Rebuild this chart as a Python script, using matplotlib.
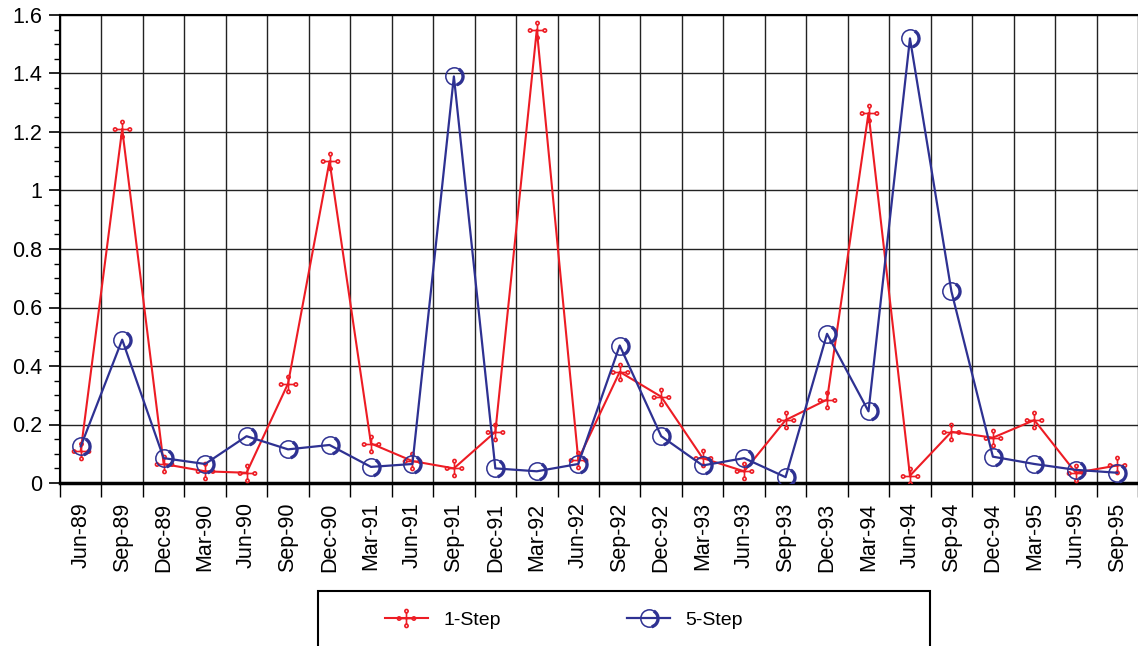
import numpy as np
import matplotlib
matplotlib.use("Agg")
import matplotlib.pyplot as plt
from matplotlib.path import Path
from matplotlib.patches import Rectangle
from matplotlib.lines import Line2D
from matplotlib.ticker import MultipleLocator, FuncFormatter

# quarters shown on the x axis
quarters = ["Jun-89", "Sep-89", "Dec-89", "Mar-90", "Jun-90", "Sep-90", "Dec-90",
            "Mar-91", "Jun-91", "Sep-91", "Dec-91", "Mar-92", "Jun-92", "Sep-92",
            "Dec-92", "Mar-93", "Jun-93", "Sep-93", "Dec-93", "Mar-94", "Jun-94",
            "Sep-94", "Dec-94", "Mar-95", "Jun-95", "Sep-95"]

one_step = [0.11, 1.21, 0.065, 0.04, 0.035, 0.34, 1.10, 0.135, 0.075, 0.05,
            0.175, 1.55, 0.08, 0.38, 0.295, 0.085, 0.04, 0.215, 0.285, 1.265,
            0.025, 0.175, 0.155, 0.215, 0.035, 0.06]

five_step = [0.125, 0.49, 0.085, 0.065, 0.16, 0.115, 0.13, 0.055, 0.065, 1.39,
             0.05, 0.04, 0.065, 0.47, 0.16, 0.06, 0.085, 0.02, 0.51, 0.245,
             1.52, 0.655, 0.09, 0.065, 0.045, 0.035]

RED = "#ed1c24"
BLUE = "#2e3192"

plt.rcParams["font.family"] = ["Liberation Sans", "DejaVu Sans"]
plt.rcParams["font.size"] = 14


def flower_marker():
    # cross with small rings at the arm ends
    arm = 1.0
    r = 0.22
    parts = [Path([(-arm + r, 0), (arm - r, 0)], [Path.MOVETO, Path.LINETO]),
             Path([(0, -arm + r), (0, arm - r)], [Path.MOVETO, Path.LINETO])]
    for cx, cy in [(arm, 0), (-arm, 0), (0, arm), (0, -arm)]:
        parts.append(Path.circle((cx, cy), r))
    return Path.make_compound_path(*parts)


# right-hand shading of the ring marker
crescent = Path.arc(-75, 60)

fig = plt.figure(figsize=(11.38, 6.46), dpi=100)
ax = fig.add_axes([60 / 1138, 1 - 483 / 646, 1 - 60 / 1138, (483 - 15) / 646])

x = np.arange(len(quarters))
ax.plot(x, one_step, color=RED, lw=1.5, marker=flower_marker(), ms=13,
        mfc="none", mec=RED, mew=1.2, zorder=3)
ax.plot(x, five_step, color=BLUE, lw=1.6, marker="o", ms=12.5,
        mfc="none", mec=BLUE, mew=1.1, zorder=3)
ax.plot(x, five_step, ls="none", marker=crescent, ms=12.5, mfc="none",
        mec=BLUE, mew=2.4, zorder=3)

ax.set_xlim(-0.5, len(quarters) - 0.5)
ax.set_ylim(0, 1.6)

ax.set_xticks(x)
ax.set_xticklabels(quarters, rotation=90, fontsize=15.5)
ax.set_xticks(np.arange(-0.5, len(quarters), 1.0), minor=True)
ax.tick_params(axis="x", which="major", length=0, pad=14)
ax.tick_params(axis="x", which="minor", length=10, width=1, direction="out")

ax.yaxis.set_major_locator(MultipleLocator(0.2))
ax.yaxis.set_minor_locator(MultipleLocator(0.05))
ax.yaxis.set_major_formatter(FuncFormatter(lambda v, p: "{:g}".format(round(v, 2))))
ax.tick_params(axis="y", which="major", length=8, width=1.2, pad=5, labelsize=15.5)
ax.tick_params(axis="y", which="minor", length=4, width=1)

ax.grid(True, axis="y", which="major", color="#222222", lw=1)
ax.grid(True, axis="x", which="minor", color="#222222", lw=1)
ax.set_axisbelow(True)

ax.spines["bottom"].set_linewidth(2.5)
ax.spines["left"].set_linewidth(1.5)
ax.spines["top"].set_linewidth(1.5)
ax.spines["right"].set_visible(False)

# legend frame, cut off by the bottom of the figure
fig.patches.append(Rectangle((318 / 1138, -0.05), (930 - 318) / 1138, 0.05 + (646 - 591) / 646,
                             transform=fig.transFigure, fill=False, ec="black", lw=1.5))
h1 = Line2D([], [], color=RED, lw=1.5, marker=flower_marker(), ms=13,
            mfc="none", mec=RED, mew=1.2)
h2 = (Line2D([], [], color=BLUE, lw=1.6, marker="o", ms=12.5, mfc="none", mec=BLUE, mew=1.1),
      Line2D([], [], ls="none", marker=crescent, ms=12.5, mfc="none", mec=BLUE, mew=2.4))
fig.legend([h1, h2], ["1-Step", "5-Step"], loc="center left",
           bbox_to_anchor=(385 / 1138, 1 - 620 / 646), ncol=2,
           frameon=False, handlelength=2.2, handletextpad=0.8, columnspacing=6.5,
           borderpad=0, borderaxespad=0)

fig.savefig("out.png", dpi=100)
